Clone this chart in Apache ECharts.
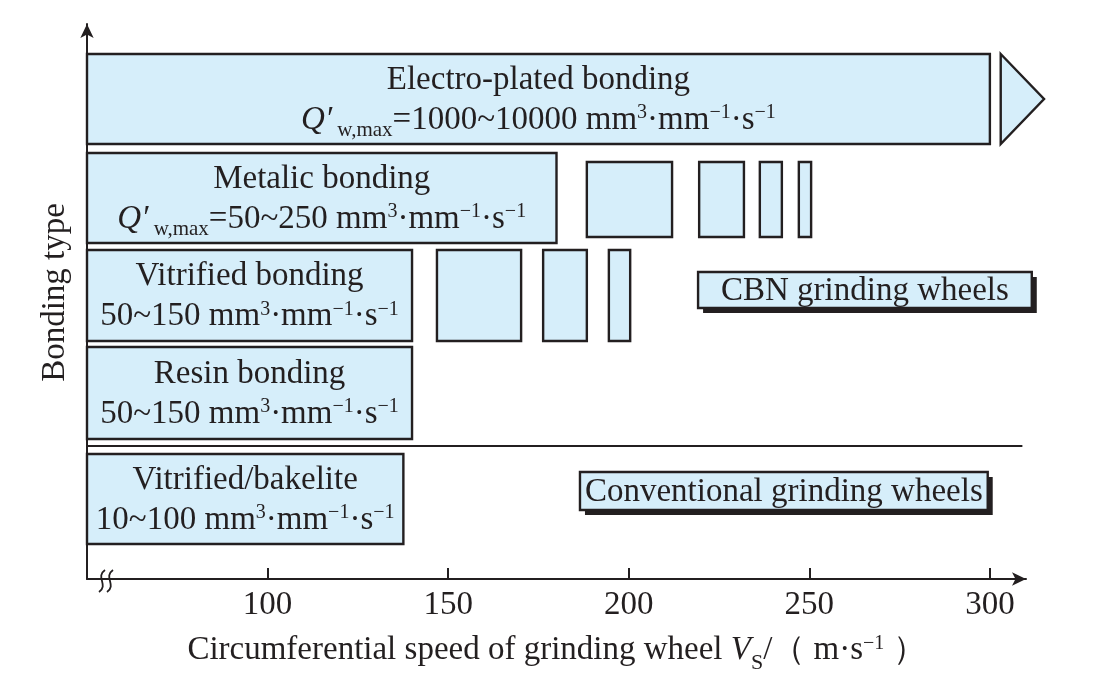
<!DOCTYPE html>
<html><head><meta charset="utf-8">
<script src="https://cdn.jsdelivr.net/npm/echarts@6/dist/echarts.min.js"></script>
<style>html,body{margin:0;padding:0;background:#fff}#c{width:1095px;height:690px}</style>
</head><body><div id="c"></div>
<script>
// ---- data ----
const rowNames = ['Electro-plated bonding', 'Metalic bonding', 'Vitrified bonding', 'Resin bonding', 'Vitrified/bakelite'];
const rowRates = ['1000~10000', '50~250', '50~150', '50~150', '10~100'];
const rowHasQ = [true, true, false, false, false];
const rowLow = [435, 336, 238, 140, 35];
const rowHigh = [525, 426, 329, 232, 125];
const speedFrom = [50, 50, 50, 50, 50];
const speedTo = [300, 180, 140, 140, 137.6];
const metalicBoxes = [[188.4, 212], [219.5, 231.9], [236.3, 242.4], [247.1, 250.5]];
const metalicBoxLevel = [342, 417];
const vitrifiedBoxes = [[146.9, 170.2], [176.3, 188.4], [194.5, 200.4]];
const vitrifiedBoxLevel = [238, 329];
const arrowSpeed = [303, 315];
const separatorSpeed = [50, 309];
const separatorLevel = 133;
const noteTexts = ['CBN grinding wheels', 'Conventional grinding wheels'];
const noteFrom = [219.2, 186.5];
const noteTo = [311.6, 299.4];
const noteLow = [271, 69];
const noteHigh = [307, 107];
const xTicks = [100, 150, 200, 250, 300];

// ---- style ----
const INK = '#231f20';
const FILL = '#d6eefa';
const SERIF = "'Liberation Serif','Times New Roman',serif";
const FS = 33;
const LW = 2.4;

const rich = {
  n: { fontSize: FS, fontFamily: SERIF, fill: INK, lineHeight: 40 },
  q: { fontSize: FS, fontFamily: SERIF, fill: INK, lineHeight: 40, fontStyle: 'italic' },
  sup: { fontSize: 20, fontFamily: SERIF, fill: INK, lineHeight: 26, padding: [0, 0, 14, 0] },
  sub: { fontSize: 21, fontFamily: SERIF, fill: INK, lineHeight: 20, padding: [20, 0, 0, 0] }
};
function unitText(prefix) {
  return `{n|${prefix} mm}{sup|3}{n|·mm}{sup|−1}{n|·s}{sup|−1}`;
}
function rowLabel(i) {
  const l2 = rowHasQ[i] ? `{q|Q′}{sub| w,max}` + unitText('=' + rowRates[i]) : unitText(rowRates[i]);
  return `{n|${rowNames[i]}}\n${l2}`;
}

const barData = rowNames.map((n, i) => [speedFrom[i], speedTo[i], rowLow[i], rowHigh[i], i]);
const boxData = metalicBoxes.map(b => [b[0], b[1], metalicBoxLevel[0], metalicBoxLevel[1]])
  .concat(vitrifiedBoxes.map(b => [b[0], b[1], vitrifiedBoxLevel[0], vitrifiedBoxLevel[1]]));
const noteData = noteTexts.map((t, i) => [noteFrom[i], noteTo[i], noteLow[i], noteHigh[i], i]);

function rectFrom(api) {
  const p0 = api.coord([api.value(0), api.value(3)]);
  const p1 = api.coord([api.value(1), api.value(2)]);
  return { x: p0[0], y: p0[1], width: p1[0] - p0[0], height: p1[1] - p0[1] };
}

const chart = echarts.init(document.getElementById('c'), null, { renderer: 'canvas' });
chart.setOption({
  backgroundColor: '#fff',
  animation: false,
  grid: { left: 87, right: 69, top: 24, bottom: 111, containLabel: false },
  xAxis: {
    type: 'value', min: 50, max: 310,
    axisLine: { show: true, symbol: ['none', 'arrow'], symbolSize: [10, 14], lineStyle: { color: INK, width: 2 } },
    axisTick: { show: true, inside: true, length: 11, customValues: xTicks, lineStyle: { color: INK, width: 2 } },
    axisLabel: { show: true, customValues: xTicks, margin: 10, color: INK, fontSize: FS, fontFamily: SERIF },
    splitLine: { show: false },
    name: '{n|Circumferential speed of grinding wheel }{v|V}{s|S}{n|/（ m·s}{p|−1}{n| ）}',
    nameLocation: 'middle', nameGap: 50,
    nameTextStyle: {
      rich: {
        n: { fontSize: FS, fontFamily: SERIF, color: INK, lineHeight: 40 },
        v: { fontSize: FS, fontFamily: SERIF, color: INK, lineHeight: 40, fontStyle: 'italic' },
        s: { fontSize: 22, fontFamily: SERIF, color: INK, lineHeight: 21, padding: [25, 0, 0, 0] },
        p: { fontSize: 20, fontFamily: SERIF, color: INK, lineHeight: 26, padding: [0, 0, 14, 0] }
      }
    }
  },
  yAxis: {
    type: 'value', min: 0, max: 555,
    axisLine: { show: true, symbol: ['none', 'arrow'], symbolSize: [10, 14], lineStyle: { color: INK, width: 2 } },
    axisTick: { show: false }, axisLabel: { show: false }, splitLine: { show: false },
    name: 'Bonding type', nameLocation: 'middle', nameGap: 15,
    nameTextStyle: { fontSize: FS, fontFamily: SERIF, color: INK, padding: [0, 0, 0, 18] }
  },
  graphic: [
    { type: 'bezierCurve', shape: { x1: 105, y1: 570, cpx1: 95, cpy1: 577, cpx2: 109, cpy2: 585, x2: 99, y2: 592 }, style: { stroke: INK, lineWidth: 1.8, fill: null }, z: 20 },
    { type: 'bezierCurve', shape: { x1: 113, y1: 570, cpx1: 103, cpy1: 577, cpx2: 117, cpy2: 585, x2: 107, y2: 592 }, style: { stroke: INK, lineWidth: 1.8, fill: null }, z: 20 }
  ],
  series: [
    {
      type: 'line', data: [[separatorSpeed[0], separatorLevel], [separatorSpeed[1], separatorLevel]],
      symbol: 'none', lineStyle: { color: INK, width: 1.8 }, z: 1
    },
    {
      type: 'custom', data: barData, clip: false, z: 3,
      renderItem(params, api) {
        const r = rectFrom(api);
        return {
          type: 'group', children: [
            { type: 'rect', shape: r, style: { fill: FILL, stroke: INK, lineWidth: LW } },
            { type: 'text', x: r.x + r.width / 2, y: r.y + r.height / 2 + 1,
              style: { legacy: false, text: rowLabel(api.value(4)), rich: rich, align: 'center', verticalAlign: 'middle', fill: INK, fontSize: FS, fontFamily: SERIF } }
          ]
        };
      }
    },
    {
      type: 'custom', data: boxData, clip: false, z: 3,
      renderItem(params, api) {
        return { type: 'rect', shape: rectFrom(api), style: { fill: FILL, stroke: INK, lineWidth: LW } };
      }
    },
    {
      type: 'custom', data: [[arrowSpeed[0], arrowSpeed[1], rowLow[0], rowHigh[0]]], clip: false, z: 3,
      renderItem(params, api) {
        const a = api.coord([api.value(0), api.value(3)]);
        const b = api.coord([api.value(0), api.value(2)]);
        const c = api.coord([api.value(1), (api.value(2) + api.value(3)) / 2]);
        return { type: 'polygon', shape: { points: [a, c, b] }, style: { fill: FILL, stroke: INK, lineWidth: LW } };
      }
    },
    {
      type: 'custom', data: noteData, clip: false, z: 3,
      renderItem(params, api) {
        const r = rectFrom(api);
        return {
          type: 'group', children: [
            { type: 'rect', shape: { x: r.x + 5, y: r.y + 5, width: r.width, height: r.height }, style: { fill: INK } },
            { type: 'rect', shape: r, style: { fill: FILL, stroke: INK, lineWidth: LW } },
            { type: 'text', x: r.x + r.width / 2, y: r.y + r.height / 2 + 1,
              style: { legacy: false, text: noteTexts[api.value(4)], align: 'center', verticalAlign: 'middle', fill: INK, fontSize: FS, fontFamily: SERIF } }
          ]
        };
      }
    }
  ]
});
</script></body></html>
